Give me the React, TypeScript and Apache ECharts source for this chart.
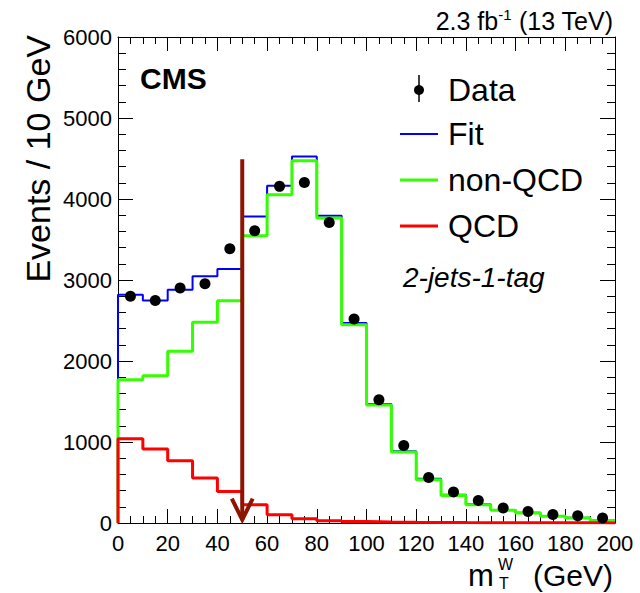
import React, { useEffect, useRef } from 'react';
import * as echarts from 'echarts';

// Histogram bins (left edges, GeV), bin width 10
const binEdges = [0, 10, 20, 30, 40, 50, 60, 70, 80, 90, 100, 110, 120, 130, 140, 150, 160, 170, 180, 190];
const binUpper = 200;
const fitValues = [2818, 2748, 2880, 3045, 3135, 3785, 4164, 4526, 3794, 2469, 1470, 886, 545, 348, 232, 160, 126, 85, 64, 34];
const nonQcdValues = [1769, 1818, 2119, 2477, 2744, 3547, 4053, 4473, 3765, 2448, 1457, 876, 535, 341, 226, 156, 123, 82, 62, 32];
const qcdValues = [1041, 913, 769, 555, 390, 226, 102, 53, 28, 18, 12, 9, 7, 5, 4, 3, 3, 2, 2, 1];
const dataCenters = [5, 15, 25, 35, 45, 55, 65, 75, 85, 95, 105, 115, 125, 135, 145, 155, 165, 175, 185, 195];
const dataValues = [2798, 2748, 2901, 2954, 3386, 3609, 4156, 4205, 3711, 2518, 1522, 958, 563, 383, 279, 185, 143, 106, 90, 62];
// Cut arrow at m_T = 50 GeV
const arrowX = 50;
const arrowTop = 4490;
const arrowTip = 40;
const arrowHeadHalfWidth = 4.2;
const arrowHeadY = 300;

const xTicks = { min: 0, max: 200, interval: 20 };
const yTicks = { min: 0, max: 6000, interval: 1000 };

const stepData = (vals: number[]) => {
  const d: number[][] = [[binEdges[0], 0]];
  binEdges.forEach((e, i) => d.push([e, vals[i]]));
  d.push([binUpper, vals[vals.length - 1]]);
  return d;
};

const FONT = '"Liberation Sans", Arial, Helvetica, sans-serif';

export default function App() {
  const ref = useRef<HTMLDivElement>(null);
  useEffect(() => {
    if (!ref.current) return;
    const chart = echarts.init(ref.current, undefined, { renderer: 'svg' });
    const axisCommon = {
      type: 'value' as const,
      axisLine: { show: true, onZero: false, lineStyle: { color: '#000', width: 1 } },
      splitLine: { show: false },
    };
    const xAxisBase = {
      ...axisCommon,
      min: xTicks.min,
      max: xTicks.max,
      interval: xTicks.interval,
      axisTick: { show: true, inside: true, length: 14, lineStyle: { color: '#000' } },
      minorTick: { show: true, splitNumber: 4, length: 7, lineStyle: { color: '#000' } },
    };
    const yAxisBase = {
      ...axisCommon,
      min: yTicks.min,
      max: yTicks.max,
      interval: yTicks.interval,
      axisTick: { show: true, inside: true, length: 15, lineStyle: { color: '#000' } },
      minorTick: { show: true, splitNumber: 5, length: 8, lineStyle: { color: '#000' } },
    };
    const stepSeries = (name: string, vals: number[], color: string, width: number) => ({
      name,
      type: 'line' as const,
      step: 'end' as const,
      data: stepData(vals),
      showSymbol: false,
      symbol: 'none',
      lineStyle: { color, width },
      itemStyle: { color },
      clip: true,
    });
    chart.setOption({
      animation: false,
      backgroundColor: '#fff',
      textStyle: { fontFamily: FONT },
      grid: { left: 118, right: 25, top: 37, bottom: 70 },
      xAxis: [
        {
          ...xAxisBase,
          position: 'bottom',
          axisLabel: { show: true, fontSize: 22, color: '#000', margin: 9, fontFamily: FONT, formatter: (v: number) => String(v) },
        },
        { ...xAxisBase, position: 'top', axisLabel: { show: false } },
      ],
      yAxis: [
        {
          ...yAxisBase,
          position: 'left',
          axisLabel: { show: true, fontSize: 22, color: '#000', margin: 6, fontFamily: FONT, formatter: (v: number) => String(v) },
        },
        { ...yAxisBase, position: 'right', axisLabel: { show: false } },
      ],
      series: [
        stepSeries('Fit', fitValues, '#0000ff', 2),
        stepSeries('non-QCD', nonQcdValues, '#33ff00', 3),
        stepSeries('QCD', qcdValues, '#ff0000', 3),
        {
          name: 'cut',
          type: 'line',
          data: [[arrowX, arrowTop], [arrowX, arrowTip]],
          symbol: 'none',
          lineStyle: { color: '#8c1400', width: 4 },
          z: 5,
        },
        {
          name: 'cutHead',
          type: 'line',
          data: [[arrowX - arrowHeadHalfWidth, arrowHeadY], [arrowX, arrowTip], [arrowX + arrowHeadHalfWidth, arrowHeadY]],
          symbol: 'none',
          lineStyle: { color: '#8c1400', width: 4, join: 'miter' },
          z: 5,
        },
        {
          name: 'Data',
          type: 'scatter',
          data: dataCenters.map((c, i) => [c, dataValues[i]]),
          symbol: 'circle',
          symbolSize: 11,
          itemStyle: { color: '#000', opacity: 1 },
          z: 6,
        },
      ],
      graphic: [
        {
          type: 'text',
          x: 38,
          y: 35,
          rotation: Math.PI / 2,
          style: { text: 'Events / 10 GeV', font: `34px ${FONT}`, fill: '#000', align: 'right', verticalAlign: 'middle' },
        },
        {
          type: 'text',
          x: 613,
          y: 21,
          style: {
            text: '{a|2.3 fb}{s|-1}{a| (13 TeV)}',
            align: 'right',
            verticalAlign: 'middle',
            rich: {
              a: { fontSize: 25, fontFamily: FONT, fill: '#000', lineHeight: 28, verticalAlign: 'middle' },
              s: { fontSize: 15, fontFamily: FONT, fill: '#000', lineHeight: 28, verticalAlign: 'top' },
            },
          },
        },
        {
          type: 'text',
          x: 140,
          y: 78,
          style: { text: 'CMS', font: `bold 30px ${FONT}`, fill: '#000', align: 'left', verticalAlign: 'middle' },
        },
        // x-axis title
        { type: 'text', x: 468, y: 575, style: { text: 'm', font: `31px ${FONT}`, fill: '#000', verticalAlign: 'middle' } },
        { type: 'text', x: 498, y: 564, style: { text: 'W', font: `16px ${FONT}`, fill: '#000', verticalAlign: 'middle' } },
        { type: 'text', x: 499, y: 583, style: { text: 'T', font: `16px ${FONT}`, fill: '#000', verticalAlign: 'middle' } },
        { type: 'text', x: 613, y: 575, style: { text: '(GeV)', font: `30px ${FONT}`, fill: '#000', align: 'right', verticalAlign: 'middle' } },
        // legend
        { type: 'line', shape: { x1: 419, y1: 75, x2: 419, y2: 102 }, style: { stroke: '#000', lineWidth: 1.5 } },
        { type: 'circle', shape: { cx: 419, cy: 90, r: 5 }, style: { fill: '#000' } },
        { type: 'text', x: 448, y: 90, style: { text: 'Data', font: `32px ${FONT}`, fill: '#000', verticalAlign: 'middle' } },
        { type: 'line', shape: { x1: 400, y1: 134, x2: 438, y2: 134 }, style: { stroke: '#0000ff', lineWidth: 2 } },
        { type: 'text', x: 448, y: 134, style: { text: 'Fit', font: `32px ${FONT}`, fill: '#000', verticalAlign: 'middle' } },
        { type: 'line', shape: { x1: 400, y1: 180, x2: 438, y2: 180 }, style: { stroke: '#33ff00', lineWidth: 3 } },
        { type: 'text', x: 448, y: 180, style: { text: 'non-QCD', font: `32px ${FONT}`, fill: '#000', verticalAlign: 'middle' } },
        { type: 'line', shape: { x1: 400, y1: 226, x2: 438, y2: 226 }, style: { stroke: '#ff0000', lineWidth: 3 } },
        { type: 'text', x: 448, y: 226, style: { text: 'QCD', font: `32px ${FONT}`, fill: '#000', verticalAlign: 'middle' } },
        { type: 'text', x: 403, y: 277, style: { text: '2-jets-1-tag', font: `italic 28px ${FONT}`, fill: '#000', verticalAlign: 'middle' } },
      ],
    });
    return () => chart.dispose();
  }, []);
  return <div ref={ref} style={{ position: 'fixed', left: 0, top: 0, width: 640, height: 593 }} />;
}
